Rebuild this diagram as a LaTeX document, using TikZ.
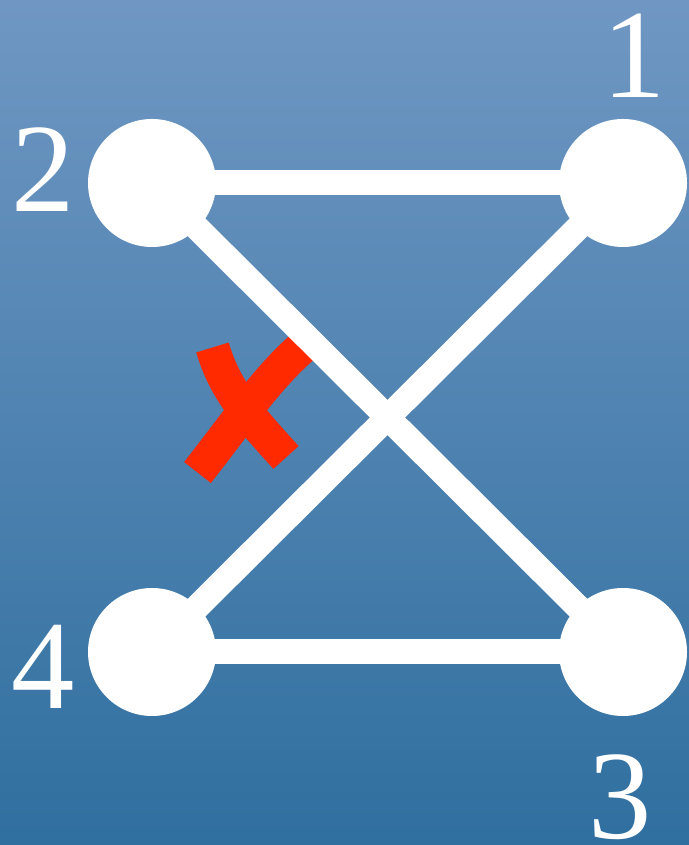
\documentclass[tikz,border=0pt]{standalone}
\usepackage{fontspec}
\setmainfont{Liberation Serif}
\usepackage{tikz}
\usetikzlibrary{positioning,calc}
\usepackage{xcolor}
\definecolor{bgtop}{HTML}{7097C3}
\definecolor{bgbot}{HTML}{2F6F9F}
\definecolor{crossred}{HTML}{FF2A00}
\pgfdeclarelayer{back}
\pgfdeclarelayer{lines}
\pgfsetlayers{back,lines,main}

\begin{document}
\begin{tikzpicture}[
    vert/.style={circle, fill=white, minimum size=2.56cm, inner sep=0pt},
    edge/.style={white, line width=0.5cm},
    vlabel/.style={text=white, inner sep=0pt, font=\fontsize{72}{80}\selectfont},
    crossmark/.style={crossred, line width=0.68cm},
]
\useasboundingbox (0,0) rectangle (13.78,16.9);

\node[vert] (v2) at (3.04,13.24) {};
\node[vert] (v1) at (12.46,13.24) {};
\node[vert] (v4) at (3.04,3.86) {};
\node[vert] (v3) at (12.46,3.86) {};

\node[vlabel] (l1) at (12.68,15.78) {1};
\node[vlabel] (l2) at (0.86,13.5) {2};
\node[vlabel] (l4) at (0.86,3.56) {4};
\node[vlabel] (l3) at (12.4,0.96) {3};

% red cross
\coordinate (xa1) at (4.25,9.95);
\coordinate (xa2) at (5.72,7.75);
\coordinate (xb1) at (3.95,7.45);
\coordinate (xb2) at (6.04,9.95);

\begin{pgfonlayer}{back}
\shade[top color=bgtop, bottom color=bgbot] (0,0) rectangle (13.78,16.9);
\draw[crossmark] (xa1) .. controls (4.5,9.1) and (4.95,8.6) .. (xa2);
\draw[crossmark] (xb1) .. controls (4.7,8.4) and (5.3,9.3) .. (xb2);
\end{pgfonlayer}

% edges
\begin{pgfonlayer}{lines}
\draw[edge] (v2.center) -- (v1.center);
\draw[edge] (v4.center) -- (v3.center);
\draw[edge] (v2.center) -- (v3.center);
\draw[edge] (v4.center) -- (v1.center);
\end{pgfonlayer}
\end{tikzpicture}
\end{document}
